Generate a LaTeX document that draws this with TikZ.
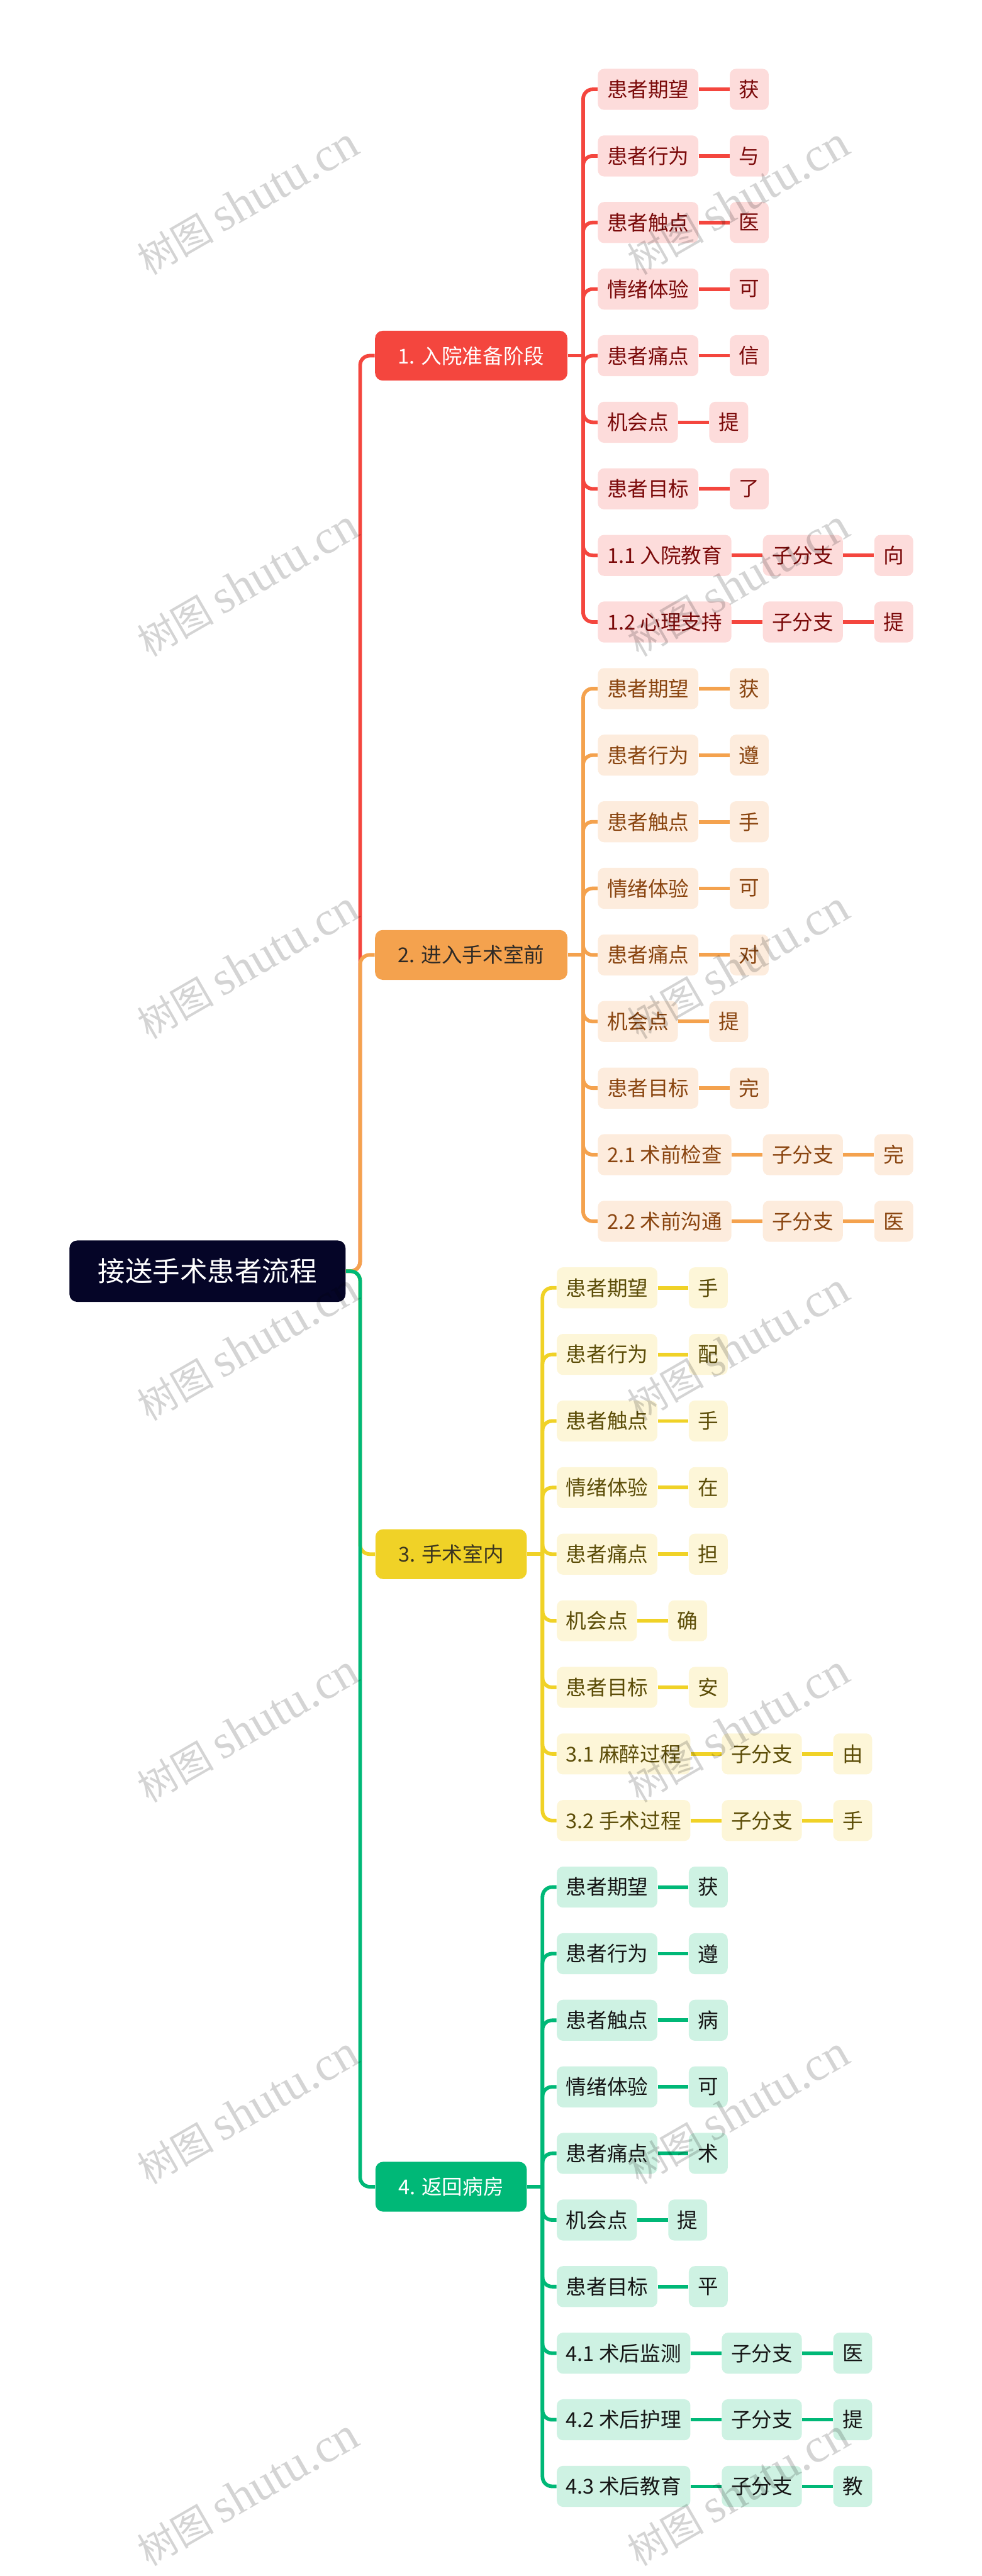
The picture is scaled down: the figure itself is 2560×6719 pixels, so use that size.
\documentclass[tikz,border=0pt]{standalone}
\usepackage{fontspec}
\setmainfont{Noto Sans CJK SC}
\newfontfamily\marklatin{Liberation Serif}
\usetikzlibrary{positioning}
\definecolor{rootfill}{HTML}{050527}
\definecolor{redline}{HTML}{F4463E}
\definecolor{redpale}{HTML}{FDDCDB}
\definecolor{redink}{HTML}{7B0A0A}
\definecolor{orangeline}{HTML}{F4A24E}
\definecolor{orangepale}{HTML}{FDECDD}
\definecolor{orangeink}{HTML}{8A4510}
\definecolor{orangetitle}{HTML}{2E2A26}
\definecolor{yellowline}{HTML}{F0D227}
\definecolor{yellowpale}{HTML}{FDF6D8}
\definecolor{yellowink}{HTML}{5C4D08}
\definecolor{yellowtitle}{HTML}{3A3520}
\definecolor{greenline}{HTML}{00B877}
\definecolor{greenpale}{HTML}{CEF2E3}
\definecolor{greenink}{HTML}{161616}

\begin{document}
\begin{tikzpicture}[x=0.2pt,y=-0.2pt,node distance=16pt,
  rootbox/.style={fill=rootfill,text=white,rounded corners=4pt,minimum height=32pt,inner xsep=14.8pt,inner ysep=0pt,font=\fontsize{14.3}{16}\selectfont,anchor=west},
  topic/.style={rounded corners=4pt,minimum height=26pt,inner xsep=12pt,inner ysep=0pt,font=\fontsize{10.7}{12}\selectfont,anchor=west},
  item/.style={rounded corners=3.2pt,minimum height=21.4pt,inner xsep=4.8pt,inner ysep=0pt,font=\fontsize{10.7}{12}\selectfont},
  redbox/.style={item,fill=redpale,text=redink},
  orangebox/.style={item,fill=orangepale,text=orangeink},
  yellowbox/.style={item,fill=yellowpale,text=yellowink},
  greenbox/.style={item,fill=greenpale,text=greenink},
  link/.style={line width=1.9pt,rounded corners=5pt},
  wmark/.style={rotate=30,text=black,text opacity=0.17,font=\fontsize{20}{22}\selectfont}]
\useasboundingbox (0,0) rectangle (2560,6719);
\node[rootbox] (root) at (180,3315.6) {接送手术患者流程};
\path (root.east) ++(37,0) coordinate (h0);
\node[topic,fill=redline,text=white] (t1) at (977,927.7) {1. 入院准备阶段};
\node[topic,fill=orangeline,text=orangetitle] (t2) at (977,2490.7) {2. 进入手术室前};
\node[topic,fill=yellowline,text=yellowtitle] (t3) at (978,4053.7) {3. 手术室内};
\node[topic,fill=greenline,text=white] (t4) at (978,5703.6) {4. 返回病房};
\draw[link,redline] (root.east) -- (h0) |- (t1.west);
\draw[link,orangeline] (root.east) -- (h0) |- (t2.west);
\draw[link,yellowline] (root.east) -- (h0) |- (t3.west);
\draw[link,greenline] (root.east) -- (h0) |- (t4.west);
% 1. red
\foreach \lab/\tip [count=\k from 0] in {患者期望/获,患者行为/与,患者触点/医,情绪体验/可,患者痛点/信,机会点/提,患者目标/了}{
  \node[redbox,anchor=west] (r\k) at (1558,{233+173.67*\k}) {\lab};
  \node[redbox,right=of r\k] (rt\k) {\tip};
  \draw[link,redline] (r\k) -- (rt\k);
}
\foreach \lab/\tip [count=\k from 7] in {1.1 入院教育/向,1.2 心理支持/提}{
  \node[redbox,anchor=west] (r\k) at (1558,{233+173.67*\k}) {\lab};
  \node[redbox,right=of r\k] (rs\k) {子分支};
  \node[redbox,right=of rs\k] (rt\k) {\tip};
  \draw[link,redline] (r\k) -- (rs\k) -- (rt\k);
}
\path (t1.east) ++(40,0) coordinate (h1);
\draw[link,redline] (t1.east) -- (h1);
\foreach \k in {0,...,8}
  \draw[link,redline] (h1) |- (r\k.west);
% 2. orange
\foreach \lab/\tip [count=\k from 9] in {患者期望/获,患者行为/遵,患者触点/手,情绪体验/可,患者痛点/对,机会点/提,患者目标/完}{
  \node[orangebox,anchor=west] (o\k) at (1558,{233+173.67*\k}) {\lab};
  \node[orangebox,right=of o\k] (ot\k) {\tip};
  \draw[link,orangeline] (o\k) -- (ot\k);
}
\foreach \lab/\tip [count=\k from 16] in {2.1 术前检查/完,2.2 术前沟通/医}{
  \node[orangebox,anchor=west] (o\k) at (1558,{233+173.67*\k}) {\lab};
  \node[orangebox,right=of o\k] (os\k) {子分支};
  \node[orangebox,right=of os\k] (ot\k) {\tip};
  \draw[link,orangeline] (o\k) -- (os\k) -- (ot\k);
}
\path (t2.east) ++(40,0) coordinate (h2);
\draw[link,orangeline] (t2.east) -- (h2);
\foreach \k in {9,...,17}
  \draw[link,orangeline] (h2) |- (o\k.west);
% 3. yellow
\foreach \lab/\tip [count=\k from 18] in {患者期望/手,患者行为/配,患者触点/手,情绪体验/在,患者痛点/担,机会点/确,患者目标/安}{
  \node[yellowbox,anchor=west] (y\k) at (1451,{233+173.67*\k}) {\lab};
  \node[yellowbox,right=of y\k] (yt\k) {\tip};
  \draw[link,yellowline] (y\k) -- (yt\k);
}
\foreach \lab/\tip [count=\k from 25] in {3.1 麻醉过程/由,3.2 手术过程/手}{
  \node[yellowbox,anchor=west] (y\k) at (1451,{233+173.67*\k}) {\lab};
  \node[yellowbox,right=of y\k] (ys\k) {子分支};
  \node[yellowbox,right=of ys\k] (yt\k) {\tip};
  \draw[link,yellowline] (y\k) -- (ys\k) -- (yt\k);
}
\path (t3.east) ++(40,0) coordinate (h3);
\draw[link,yellowline] (t3.east) -- (h3);
\foreach \k in {18,...,26}
  \draw[link,yellowline] (h3) |- (y\k.west);
% 4. green
\foreach \lab/\tip [count=\k from 27] in {患者期望/获,患者行为/遵,患者触点/病,情绪体验/可,患者痛点/术,机会点/提,患者目标/平}{
  \node[greenbox,anchor=west] (g\k) at (1451,{233+173.67*\k}) {\lab};
  \node[greenbox,right=of g\k] (gt\k) {\tip};
  \draw[link,greenline] (g\k) -- (gt\k);
}
\foreach \lab/\tip [count=\k from 34] in {4.1 术后监测/医,4.2 术后护理/提,4.3 术后教育/教}{
  \node[greenbox,anchor=west] (g\k) at (1451,{233+173.67*\k}) {\lab};
  \node[greenbox,right=of g\k] (gs\k) {子分支};
  \node[greenbox,right=of gs\k] (gt\k) {\tip};
  \draw[link,greenline] (g\k) -- (gs\k) -- (gt\k);
}
\path (t4.east) ++(40,0) coordinate (h4);
\draw[link,greenline] (t4.east) -- (h4);
\foreach \k in {27,...,36}
  \draw[link,greenline] (h4) |- (g\k.west);
% watermark
\foreach \row in {0,...,6}{
  \node[wmark] (wl\row) at (646,{525+996*\row}) {树图 {\marklatin\fontsize{25}{27}\selectfont shutu.cn}};
  \node[wmark] (wr\row) at (1925,{525+996*\row}) {树图 {\marklatin\fontsize{25}{27}\selectfont shutu.cn}};
}
\end{tikzpicture}
\end{document}
